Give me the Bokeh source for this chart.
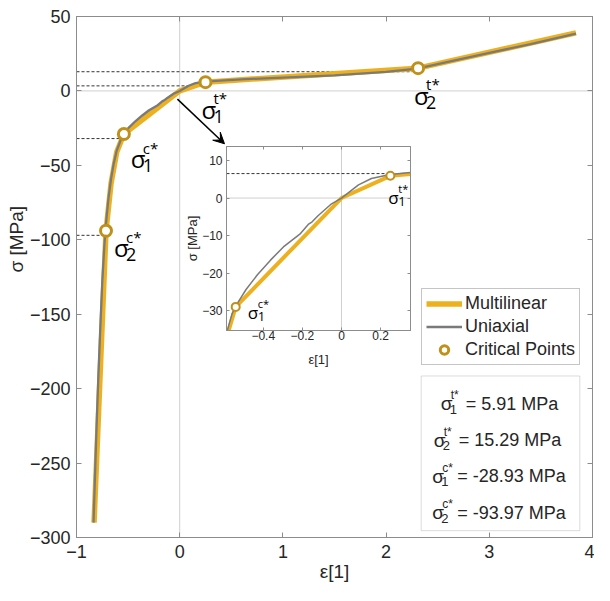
import math
from bokeh.plotting import figure
from bokeh.models import (Range1d, LinearAxis, FixedTicker, Span, Legend, LegendItem,
                          Arrow, VeeHead, Title, BoxAnnotation, ColumnDataSource)
from bokeh.layouts import column
from bokeh.core.properties import value
from bokeh.embed import file_html
from bokeh.resources import INLINE

# ---------------- data ----------------
uni_eps = [-0.835, -0.81, -0.79, -0.77, -0.75, -0.73, -0.71, -0.69, -0.665, -0.64, -0.61, -0.58,
           -0.56, -0.53, -0.488, -0.43, -0.363, -0.297, -0.213, -0.17, -0.15, -0.12, -0.055, 0.0,
           0.087, 0.153, 0.248, 0.353, 0.6, 1.0, 1.5, 2.0, 2.3, 2.6, 3.0, 3.4, 3.84]
uni_sig = [-290, -235, -195, -160, -128, -104, -86, -72, -59, -49, -40, -34.5,
           -30.8, -27.8, -24.3, -20.4, -16.5, -13.0, -9.6, -7.0, -6.3, -4.7, -1.7, 0.0,
           3.5, 5.2, 6.25, 6.8, 7.8, 9.0, 10.5, 12.8, 15.0, 19.5, 25.5, 31.5, 38.5]
ml_eps = [-0.83, -0.714, -0.665, -0.61, -0.541, 0.0, 0.25, 2.31, 3.84]
ml_sig = [-290, -93.97, -62, -41, -28.93, 0.0, 5.91, 15.29, 39.0]
crit_eps = [0.25, 2.31, -0.541, -0.714]
crit_sig = [5.91, 15.29, -28.93, -93.97]
crit_sub = ["1", "2", "1", "2"]
crit_sup = ["t*", "t*", "c*", "c*"]
guide_sig = [3.4, 12.9, -32.0, -97.0]
guide_end = [0.2, 2.25, -0.557, -0.745]
inset_guide_sig = [6.5]
inset_guide_end = [0.22]
inset_idx = [0, 2]
x_ticks = [-1, 0, 1, 2, 3, 4]
y_ticks = [-300, -250, -200, -150, -100, -50, 0, 50]
inset_x_ticks = [-0.4, -0.2, 0, 0.2]
inset_y_ticks = [-30, -20, -10, 0, 10]

# ---------------- styles ----------------
ORANGE = "#EDB120"
GOLD = "#C0911A"
GRAY = "#7a7a7a"
FRAME = "#8c8c8c"
TXT = "#262626"
ZERO = "#cfcfcf"
FONT = "Liberation Sans"
AFONT = "Open Sans"
LEFT_BORDER = 76   # shared by both plots (bokeh aligns plot borders inside a column)


def style_axis(ax, ticks, size, tick_in, standoff, show=True):
    ax.ticker = FixedTicker(ticks=ticks)
    ax.major_tick_in = tick_in
    ax.major_tick_out = 0
    ax.minor_tick_line_color = None
    ax.axis_line_color = FRAME
    ax.major_tick_line_color = FRAME
    ax.major_label_text_font = FONT
    ax.major_label_text_font_size = size if show else "0px"
    ax.major_label_text_color = TXT if show else None
    ax.major_label_standoff = standoff


def style_label(ax, text, size, standoff):
    ax.axis_label = text
    ax.axis_label_text_font = FONT
    ax.axis_label_text_font_size = size
    ax.axis_label_text_font_style = "normal"
    ax.axis_label_text_color = TXT
    ax.axis_label_standoff = standoff


def side_title(text, size, align, offset):
    return Title(text=text, align=align, offset=offset, standoff=0, text_font=FONT,
                 text_font_size=size, text_font_style="normal", text_color=TXT)


# ---------------- main figure ----------------
p = figure(width=594, height=585, x_range=Range1d(-1, 4), y_range=Range1d(-300, 50),
           output_backend="svg", toolbar_location=None,
           min_border_left=LEFT_BORDER, min_border_right=2, min_border_top=16, min_border_bottom=48,
           background_fill_color="white", border_fill_color="white")
p.grid.visible = False
p.outline_line_color = FRAME
style_axis(p.xaxis[0], x_ticks, "18px", 5, 7)
style_axis(p.yaxis[0], y_ticks, "18px", 5, 6)
style_label(p.xaxis[0], "ε[1]", "19px", 0)
top_ax = LinearAxis()
style_axis(top_ax, x_ticks, "0px", 5, 0, show=False)
p.add_layout(top_ax, "above")
right_ax = LinearAxis()
style_axis(right_ax, y_ticks, "0px", 5, 0, show=False)
p.add_layout(right_ax, "right")
p.add_layout(side_title("σ [MPa]", "19px", "left", 265), "left")

p.add_layout(Span(location=0, dimension="height", line_color=ZERO, line_width=1, level="underlay"))
p.add_layout(Span(location=0, dimension="width", line_color=ZERO, line_width=1, level="underlay"))

p.segment(x0=[p.x_range.start] * len(guide_sig), y0=guide_sig, x1=guide_end, y1=guide_sig,
          line_color="#333333", line_width=1, line_dash="3 2")

r_ml = p.line(ml_eps, ml_sig, line_color=ORANGE, line_width=5.5)
r_uni = p.line(uni_eps, uni_sig, line_color=GRAY, line_width=2.3)
r_crit = p.scatter(crit_eps, crit_sig, size=11, marker="circle", fill_color="white",
                   line_color=GOLD, line_width=3)

# labels next to critical points (offsets in px)
lab_dx = [-4, -4, 7, 8]
lab_dy = [27, 27, 25, 17]
src = ColumnDataSource(dict(
    x=crit_eps, y=crit_sig, sigma=["σ"] * 4, sub=crit_sub, sup=crit_sup,
    dx=lab_dx, dy=lab_dy,
    sdx=[d + 12 for d in lab_dx], sdy=[d + 7 for d in lab_dy],
    udx=[d + 12 for d in lab_dx], udy=[d - 11 for d in lab_dy]))
p.text(x="x", y="y", text="sigma", x_offset="dx", y_offset="dy", source=src,
       text_font=value(AFONT), text_font_size="24px", text_baseline="alphabetic", text_color="black")
p.text(x="x", y="y", text="sub", x_offset="sdx", y_offset="sdy", source=src,
       text_font=value(AFONT), text_font_size="18px", text_baseline="alphabetic", text_color="black")
p.text(x="x", y="y", text="sup", x_offset="udx", y_offset="udy", source=src,
       text_font=value(AFONT), text_font_size="15px", text_baseline="alphabetic", text_color="black")

# arrow to inset
p.add_layout(Arrow(end=VeeHead(size=11, fill_color="black", line_color="black", line_width=1),
                   x_start=-0.022, y_start=-5.5, x_end=0.434, y_end=-35.5,
                   line_color="black", line_width=1.5))

# legend
legend = Legend(items=[LegendItem(label="Multilinear", renderers=[r_ml]),
                       LegendItem(label="Uniaxial", renderers=[r_uni]),
                       LegendItem(label="Critical Points", renderers=[r_crit])],
                location=(345, 172))
legend.label_text_font = FONT
legend.label_text_font_size = "18px"
legend.label_text_color = TXT
legend.glyph_width = 36
legend.glyph_height = 21
legend.label_height = 21
legend.label_standoff = 3
legend.spacing = 2
legend.padding = 4
legend.margin = 0
legend.border_line_color = FRAME
legend.border_line_width = 1
legend.background_fill_color = "white"
legend.background_fill_alpha = 1
p.add_layout(legend)

# value box
p.add_layout(BoxAnnotation(left=2.34, right=3.877, top=-191.5, bottom=-295.4,
                           fill_color="white", fill_alpha=1, line_color=FRAME, line_width=1,
                           level="underlay"))
box_dx = [-60, -67, -68.5, -68.5]
box_dy = [28, 64.2, 100.4, 136.6]
bsrc = ColumnDataSource(dict(
    x=[3.11] * 4, y=[-191.5] * 4, sigma=["σ"] * 4, sub=crit_sub, sup=crit_sup,
    rest=["= %.2f MPa" % v for v in crit_sig],
    dx=box_dx, dy=box_dy,
    sdx=[d + 9 for d in box_dx], sdy=[d + 5.5 for d in box_dy],
    udx=[d + 10 for d in box_dx], udy=[d - 8.5 for d in box_dy],
    rdx=[d + 25 for d in box_dx]))
p.text(x="x", y="y", text="sigma", x_offset="dx", y_offset="dy", source=bsrc,
       text_font=value(FONT), text_font_size="19px", text_baseline="alphabetic", text_color=TXT)
p.text(x="x", y="y", text="sub", x_offset="sdx", y_offset="sdy", source=bsrc,
       text_font=value(FONT), text_font_size="13px", text_baseline="alphabetic", text_color=TXT)
p.text(x="x", y="y", text="sup", x_offset="udx", y_offset="udy", source=bsrc,
       text_font=value(FONT), text_font_size="12px", text_baseline="alphabetic", text_color=TXT)
p.text(x="x", y="y", text="rest", x_offset="rdx", y_offset="dy", source=bsrc,
       text_font=value(FONT), text_font_size="18px", text_baseline="alphabetic", text_color=TXT)

# ---------------- inset ----------------
ins = figure(width=LEFT_BORDER + 184 + 2, height=227, x_range=Range1d(-0.588, 0.353),
             y_range=Range1d(-35.2, 13.7), output_backend="svg", toolbar_location=None,
             min_border_left=LEFT_BORDER, min_border_right=2, min_border_top=3, min_border_bottom=40,
             border_fill_alpha=0, background_fill_color="white")
ins.grid.visible = False
ins.outline_line_color = FRAME
style_axis(ins.xaxis[0], inset_x_ticks, "12px", 3, 0)
style_axis(ins.yaxis[0], inset_y_ticks, "12px", 3, 4)
ins.xaxis[0].major_label_overrides = {0: "0"}
style_label(ins.xaxis[0], "ε[1]", "13px", 9)
ins.add_layout(side_title("σ [MPa]", "13px", "center", 0), "left")
itop = LinearAxis()
style_axis(itop, inset_x_ticks, "0px", 3, 0, show=False)
ins.add_layout(itop, "above")
iright = LinearAxis()
style_axis(iright, inset_y_ticks, "0px", 3, 0, show=False)
ins.add_layout(iright, "right")

ins.add_layout(Span(location=0, dimension="height", line_color=ZERO, line_width=1, level="underlay"))
ins.add_layout(Span(location=0, dimension="width", line_color=ZERO, line_width=1, level="underlay"))
ins.segment(x0=[ins.x_range.start] * len(inset_guide_sig), y0=inset_guide_sig, x1=inset_guide_end,
            y1=inset_guide_sig, line_color="#333333", line_width=1, line_dash="3 2")
ins.line(ml_eps, ml_sig, line_color=ORANGE, line_width=4)
ins.line(uni_eps, uni_sig, line_color=GRAY, line_width=1.5)
ie = [crit_eps[i] for i in inset_idx]
isg = [crit_sig[i] for i in inset_idx]
ins.scatter(ie, isg, size=8, marker="circle", fill_color="white", line_color=GOLD, line_width=2)
ilab_dx = [-2, 12]
ilab_dy = [22, 6]
isrc = ColumnDataSource(dict(
    x=ie, y=isg, sigma=["σ"] * 2, sub=[crit_sub[i] for i in inset_idx],
    sup=[crit_sup[i] for i in inset_idx], dx=ilab_dx, dy=ilab_dy,
    sdx=[d + 10 for d in ilab_dx], sdy=[d + 4 for d in ilab_dy],
    udx=[d + 10 for d in ilab_dx], udy=[d - 9 for d in ilab_dy]))
ins.text(x="x", y="y", text="sigma", x_offset="dx", y_offset="dy", source=isrc,
         text_font=value(AFONT), text_font_size="17px", text_baseline="alphabetic", text_color="black")
ins.text(x="x", y="y", text="sub", x_offset="sdx", y_offset="sdy", source=isrc,
         text_font=value(AFONT), text_font_size="13px", text_baseline="alphabetic", text_color="black")
ins.text(x="x", y="y", text="sup", x_offset="udx", y_offset="udy", source=isrc,
         text_font=value(AFONT), text_font_size="11px", text_baseline="alphabetic", text_color="black")

# place the inset over the main axes (top, right, bottom, left margins in px)
ins.margin = (-442, 0, 215, 226 - LEFT_BORDER)

layout = column(p, ins)
open("out.html", "w").write(file_html(layout, INLINE))
